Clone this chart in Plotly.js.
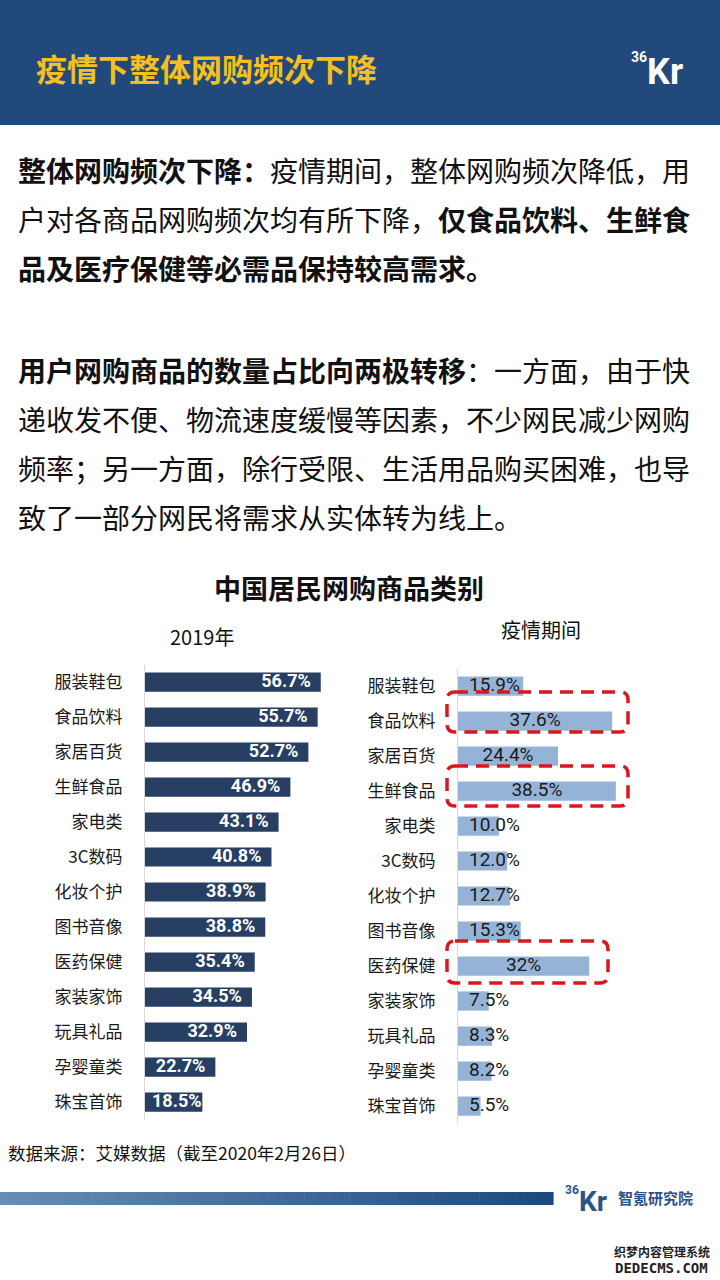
<!DOCTYPE html>
<html>
<head>
<meta charset="utf-8">
<script src="https://cdn.plot.ly/plotly-3.0.1.min.js"></script>
<style>
html,body{margin:0;padding:0;background:#fff;}
#chart{width:720px;height:1280px;}
</style>
</head>
<body>
<div id="chart"></div>
<script>
// ---------- data ----------
const categories = ['服装鞋包','食品饮料','家居百货','生鲜食品','家电类','3C数码','化妆个护','图书音像','医药保健','家装家饰','玩具礼品','孕婴童类','珠宝首饰'];
const values2019 = [56.7,55.7,52.7,46.9,43.1,40.8,38.9,38.8,35.4,34.5,32.9,22.7,18.5];
const valuesEpidemic = [15.9,37.6,24.4,38.5,10.0,12.0,12.7,15.3,32,7.5,8.3,8.2,5.5];
const labels2019 = ['56.7%','55.7%','52.7%','46.9%','43.1%','40.8%','38.9%','38.8%','35.4%','34.5%','32.9%','22.7%','18.5%'];
const labelsEpidemic = ['15.9%','37.6%','24.4%','38.5%','10.0%','12.0%','12.7%','15.3%','32%','7.5%','8.3%','8.2%','5.5%'];
const seriesNames = ['2019年','疫情期间'];
const highlighted = ['食品饮料','生鲜食品','医药保健'];

// ---------- helpers ----------
const W = 720, H = 1280;
const px = x => x / W;
const py = y => 1 - y / H;
const CJK = '"Noto Sans CJK SC", "Noto Sans", sans-serif';
const NUM = 'Roboto, "Liberation Sans", sans-serif';

function ann(text, x, y, size, color, opts) {
  return Object.assign({
    text: text, x: px(x), y: py(y), xref: 'paper', yref: 'paper',
    xanchor: 'left', yanchor: 'middle', showarrow: false,
    font: {family: CJK, size: size, color: color}
  }, opts || {});
}
function rrect(x0, y0, x1, y1, r) {
  const P = (x, y) => px(x) + ',' + py(y);
  return 'M' + P(x0 + r, y0) + ' L' + P(x1 - r, y0) + ' Q' + P(x1, y0) + ' ' + P(x1, y0 + r) +
    ' L' + P(x1, y1 - r) + ' Q' + P(x1, y1) + ' ' + P(x1 - r, y1) +
    ' L' + P(x0 + r, y1) + ' Q' + P(x0, y1) + ' ' + P(x0, y1 - r) +
    ' L' + P(x0, y0 + r) + ' Q' + P(x0, y0) + ' ' + P(x0 + r, y0) + ' Z';
}

// ---------- scales ----------
const leftPxPerUnit = 3.1, rightPxPerUnit = 4.1;
const leftRange = [0, (360 - 145) / leftPxPerUnit];
const rightRange = [0, (705 - 458) / rightPxPerUnit];

// label positions (left: inside end, right: centered)
const padL = 10 / leftPxPerUnit, padLmin = 7 / leftPxPerUnit, padR = 11 / rightPxPerUnit;
const lx = values2019.map(v => v < 21.6 ? padLmin : v - padL);
const lpos = values2019.map(v => v < 21.6 ? 'middle right' : 'middle left');
const rx = valuesEpidemic.map(v => v < 17.2 ? padR : v / 2);
const rpos = valuesEpidemic.map(v => v < 17.2 ? 'middle right' : 'middle center');

const traces = [
  {type: 'bar', orientation: 'h', x: values2019, y: categories, name: seriesNames[0],
   marker: {color: '#263F63'}, xaxis: 'x', yaxis: 'y', hoverinfo: 'skip'},
  {type: 'scatter', mode: 'text', x: lx, y: categories, text: labels2019, textposition: lpos,
   textfont: {family: NUM, size: 18, color: '#ffffff', weight: 'bold'}, xaxis: 'x', yaxis: 'y',
   cliponaxis: false, hoverinfo: 'skip', showlegend: false},
  {type: 'bar', orientation: 'h', x: valuesEpidemic, y: categories, name: seriesNames[1],
   marker: {color: '#95B3D7'}, xaxis: 'x2', yaxis: 'y2', hoverinfo: 'skip'},
  {type: 'scatter', mode: 'text', x: rx, y: categories, text: labelsEpidemic, textposition: rpos,
   textfont: {family: NUM, size: 19, color: '#1a1a1a'}, xaxis: 'x2', yaxis: 'y2',
   cliponaxis: false, hoverinfo: 'skip', showlegend: false}
];

const yCommon = {
  type: 'category', categoryorder: 'array', categoryarray: categories,
  range: [12.5, -0.5], showline: true, linecolor: '#D9D9D9', linewidth: 1,
  showgrid: false, zeroline: false, ticks: '', ticklabelstandoff: 18,
  tickfont: {family: CJK, size: 17, color: '#1a1a1a'}, fixedrange: true
};

const shapes = [];
// header band
shapes.push({type: 'rect', xref: 'paper', yref: 'paper', x0: 0, x1: 1, y0: py(125), y1: 1,
  fillcolor: '#22497B', line: {width: 0}, layer: 'below'});
// footer gradient bar
const N = 60, x0b = 0, x1b = 553;
const c0 = [104, 140, 181], c1 = [31, 73, 125];
for (let i = 0; i < N; i++) {
  const t = i / (N - 1);
  const c = c0.map((a, k) => Math.round(a + (c1[k] - a) * t));
  shapes.push({type: 'rect', xref: 'paper', yref: 'paper',
    x0: px(x0b + (x1b - x0b) * i / N), x1: px(x0b + (x1b - x0b) * (i + 1) / N + 0.6),
    y0: py(1205), y1: py(1192), fillcolor: 'rgb(' + c.join(',') + ')', line: {width: 0}});
}
// red dashed highlight boxes
const boxes = [[447, 692, 628, 732], [447, 766, 628, 806], [447, 941, 608, 983]];
boxes.forEach(b => shapes.push({type: 'path', xref: 'paper', yref: 'paper',
  path: rrect(b[0], b[1], b[2], b[3], 8), fillcolor: 'rgba(0,0,0,0)',
  line: {color: '#D7191F', width: 3.5, dash: '13px,8px'}}));

const annotations = [
  ann('<b>疫情下整体网购频次下降</b>', 34, 68, 31, '#F4BF22'),
  ann('<b>36</b>', 629, 57, 13, '#ffffff', {font: {family: NUM, size: 14, color: '#ffffff'}}),
  ann('<b>Kr</b>', 645, 72, 34, '#ffffff', {font: {family: NUM, size: 36, color: '#ffffff'}}),
  ann('<b>整体网购频次下降：</b>疫情期间，整体网购频次降低，用', 16, 170, 28, '#111111'),
  ann('户对各商品网购频次均有所下降，<b>仅食品饮料、生鲜食</b>', 16, 219, 28, '#111111'),
  ann('<b>品及医疗保健等必需品保持较高需求。</b>', 16, 268, 28, '#111111'),
  ann('<b>用户网购商品的数量占比向两极转移</b>：一方面，由于快', 16, 370, 28, '#111111'),
  ann('递收发不便、物流速度缓慢等因素，不少网民减少网购', 16, 419, 28, '#111111'),
  ann('频率；另一方面，除行受限、生活用品购买困难，也导', 16, 468, 28, '#111111'),
  ann('致了一部分网民将需求从实体转为线上。', 16, 517, 28, '#111111'),
  ann('<b>中国居民网购商品类别</b>', 349, 587, 27, '#111111', {xanchor: 'center'}),
  ann(seriesNames[0], 202, 636, 20, '#111111', {xanchor: 'center'}),
  ann(seriesNames[1], 541, 629, 20, '#111111', {xanchor: 'center'}),
  ann('数据来源：艾媒数据（截至2020年2月26日）', 6, 1152, 17.5, '#111111'),
  ann('<b>36</b>', 563, 1190, 11, '#2B5388', {font: {family: NUM, size: 12, color: '#2B5388'}}),
  ann('<b>Kr</b>', 577, 1201, 26, '#2B5388', {font: {family: NUM, size: 28, color: '#2B5388'}}),
  ann('<b>智氪研究院</b>', 616, 1197, 15, '#2B5388'),
  ann('<b>织梦内容管理系统</b>', 612, 1251, 12, '#222222'),
  ann('<b>DEDECMS.COM</b>', 613, 1268, 14, '#222222', {font: {family: '"DejaVu Sans Mono", monospace', size: 14, color: '#222222'}})
];

const layout = {
  width: W, height: H, margin: {l: 0, r: 0, t: 0, b: 0},
  paper_bgcolor: '#ffffff', plot_bgcolor: 'rgba(0,0,0,0)',
  showlegend: false, bargap: 0.45,
  xaxis: {domain: [px(145), px(360)], range: leftRange, visible: false, fixedrange: true},
  yaxis: Object.assign({}, yCommon, {domain: [py(1119.5), py(664.5)], anchor: 'x'}),
  xaxis2: {domain: [px(458), px(705)], range: rightRange, visible: false, fixedrange: true},
  yaxis2: Object.assign({}, yCommon, {domain: [py(1123.5), py(668.5)], anchor: 'x2'}),
  shapes: shapes, annotations: annotations
};

Plotly.newPlot('chart', traces, layout, {displayModeBar: false, staticPlot: true});
</script>
</body>
</html>
